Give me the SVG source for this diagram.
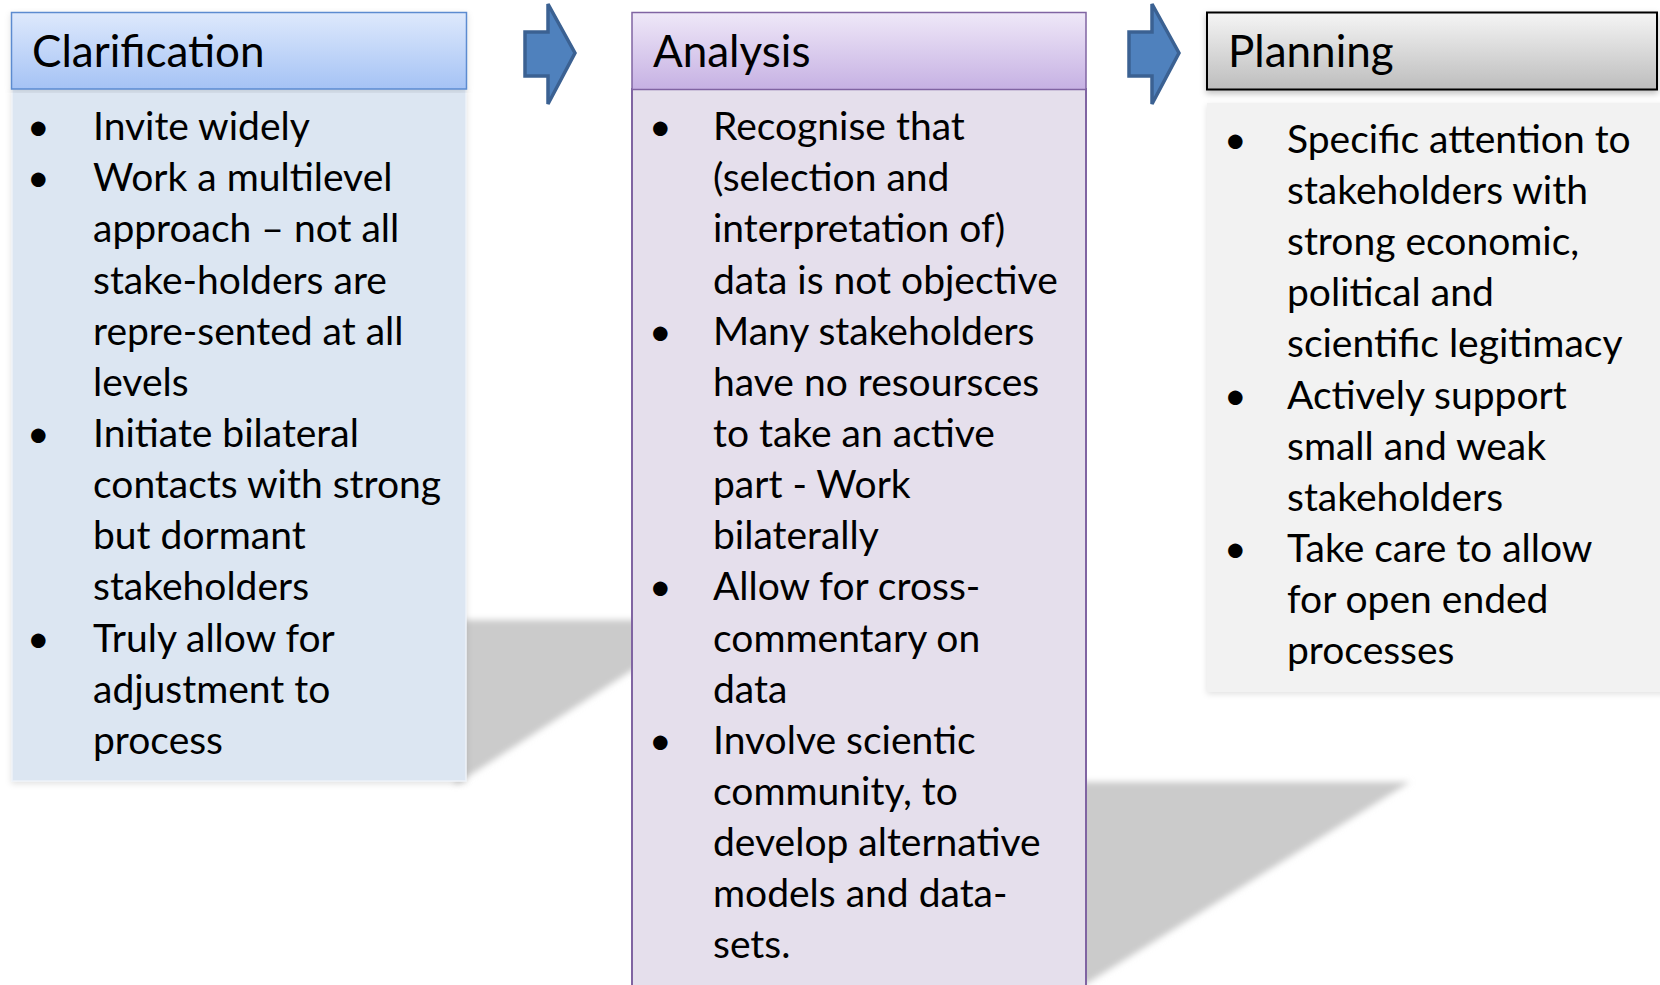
<svg xmlns="http://www.w3.org/2000/svg" width="1660" height="985" viewBox="0 0 1660 985">
  <defs>
    <linearGradient id="gradBlue" x1="0" y1="0" x2="0" y2="1">
      <stop offset="0" stop-color="#dee9fc"/>
      <stop offset="1" stop-color="#a5c3f5"/>
    </linearGradient>
    <linearGradient id="gradPurple" x1="0" y1="0" x2="0" y2="1">
      <stop offset="0" stop-color="#efe8f8"/>
      <stop offset="1" stop-color="#c6b1e3"/>
    </linearGradient>
    <linearGradient id="gradGray" x1="0" y1="0" x2="0" y2="1">
      <stop offset="0" stop-color="#f5f5f5"/>
      <stop offset="1" stop-color="#bdbdbd"/>
    </linearGradient>
    <filter id="softShadow" x="-20%" y="-20%" width="140%" height="140%">
      <feGaussianBlur stdDeviation="3"/>
    </filter>
    <filter id="dropShadow" x="-5%" y="-10%" width="110%" height="130%">
      <feDropShadow dx="0" dy="3" stdDeviation="3" flood-color="#000" flood-opacity="0.25"/>
    </filter>
    <filter id="faintShadow" x="-5%" y="-5%" width="110%" height="110%">
      <feDropShadow dx="0" dy="2" stdDeviation="3" flood-color="#000" flood-opacity="0.12"/>
    </filter>
  </defs>
  <style>
    text { font-family: Lato, "Liberation Sans", sans-serif; fill: #000; }
    .head { font-size: 44px; }
    .body { font-size: 39px; }
    .arrow { fill: #4f81bd; stroke: #3b6192; stroke-width: 3.5; stroke-linejoin: miter; }
    .cast { fill: #cbcbcb; filter: url(#softShadow); }
  </style>

  <rect width="1660" height="985" fill="#ffffff"/>

  <!-- perspective shadows cast behind the columns -->
  <g id="shadows">
    <polygon class="cast" points="455,620 645,620 645,662 455,785"/>
    <polygon class="cast" points="1075,782 1410,782 1070,994"/>
  </g>

  <!-- Clarification column -->
  <g id="clarification">
    <rect x="12" y="89" width="454" height="692" fill="#dce6f2" stroke="#eef2f8" stroke-width="1.5" filter="url(#faintShadow)"/>
    <rect x="11.5" y="12.5" width="455" height="76.5" fill="url(#gradBlue)" stroke="#5b8bd0" stroke-width="1.5" filter="url(#faintShadow)"/>
    <text class="head" x="32" y="67">Clarification</text>
    <g class="body">
      <text x="27" y="140">•</text>
      <text x="93" y="140">Invite widely</text>
      <text x="27" y="191.2">•</text>
      <text x="93" y="191.2">Work a multilevel</text>
      <text x="93" y="242.3">approach – not all</text>
      <text x="93" y="293.5">stake-holders are</text>
      <text x="93" y="344.6">repre-sented at all</text>
      <text x="93" y="395.8">levels</text>
      <text x="27" y="446.9">•</text>
      <text x="93" y="446.9">Initiate bilateral</text>
      <text x="93" y="498.1">contacts with strong</text>
      <text x="93" y="549.2">but dormant</text>
      <text x="93" y="600.4">stakeholders</text>
      <text x="27" y="651.5">•</text>
      <text x="93" y="651.5">Truly allow for</text>
      <text x="93" y="702.7">adjustment to</text>
      <text x="93" y="753.8">process</text>
    </g>
  </g>

  <!-- Analysis column -->
  <g id="analysis">
    <rect x="632" y="89" width="454" height="910" fill="#e5dfec" stroke="#8064a2" stroke-width="2"/>
    <rect x="632" y="12.5" width="454" height="77" fill="url(#gradPurple)" stroke="#8064a2" stroke-width="1.5"/>
    <text class="head" x="653" y="67">Analysis</text>
    <g class="body">
      <text x="649" y="140">•</text>
      <text x="713" y="140">Recognise that</text>
      <text x="713" y="191.2">(selection and</text>
      <text x="713" y="242.3">interpretation of)</text>
      <text x="713" y="293.5">data is not objective</text>
      <text x="649" y="344.6">•</text>
      <text x="713" y="344.6">Many stakeholders</text>
      <text x="713" y="395.8">have no resoursces</text>
      <text x="713" y="446.9">to take an active</text>
      <text x="713" y="498.1">part - Work</text>
      <text x="713" y="549.2">bilaterally</text>
      <text x="649" y="600.4">•</text>
      <text x="713" y="600.4">Allow for cross-</text>
      <text x="713" y="651.5">commentary on</text>
      <text x="713" y="702.7">data</text>
      <text x="649" y="753.8">•</text>
      <text x="713" y="753.8">Involve scientic</text>
      <text x="713" y="805">community, to</text>
      <text x="713" y="856.1">develop alternative</text>
      <text x="713" y="907.3">models and data-</text>
      <text x="713" y="958.4">sets.</text>
    </g>
  </g>

  <!-- Planning column -->
  <g id="planning">
    <rect x="1207" y="103" width="460" height="589" fill="#f2f2f2" filter="url(#faintShadow)"/>
    <rect x="1207" y="12.5" width="450" height="77" fill="url(#gradGray)" stroke="#000" stroke-width="2" filter="url(#dropShadow)"/>
    <text class="head" x="1228" y="67">Planning</text>
    <g class="body">
      <text x="1224" y="152.7">•</text>
      <text x="1287" y="152.7">Specific attention to</text>
      <text x="1287" y="203.9">stakeholders with</text>
      <text x="1287" y="255">strong economic,</text>
      <text x="1287" y="306.2">political and</text>
      <text x="1287" y="357.3">scientific legitimacy</text>
      <text x="1224" y="408.5">•</text>
      <text x="1287" y="408.5">Actively support</text>
      <text x="1287" y="459.6">small and weak</text>
      <text x="1287" y="510.8">stakeholders</text>
      <text x="1224" y="561.9">•</text>
      <text x="1287" y="561.9">Take care to allow</text>
      <text x="1287" y="613.1">for open ended</text>
      <text x="1287" y="664.2">processes</text>
    </g>
  </g>

  <!-- flow arrows between the stages -->
  <g id="connectors">
    <polygon class="arrow" points="525,32 548,32 548,4 575,53 548,104 548,76 525,76"/>
    <polygon class="arrow" points="1129,32 1152,32 1152,4 1179,53 1152,104 1152,76 1129,76"/>
  </g>
</svg>
